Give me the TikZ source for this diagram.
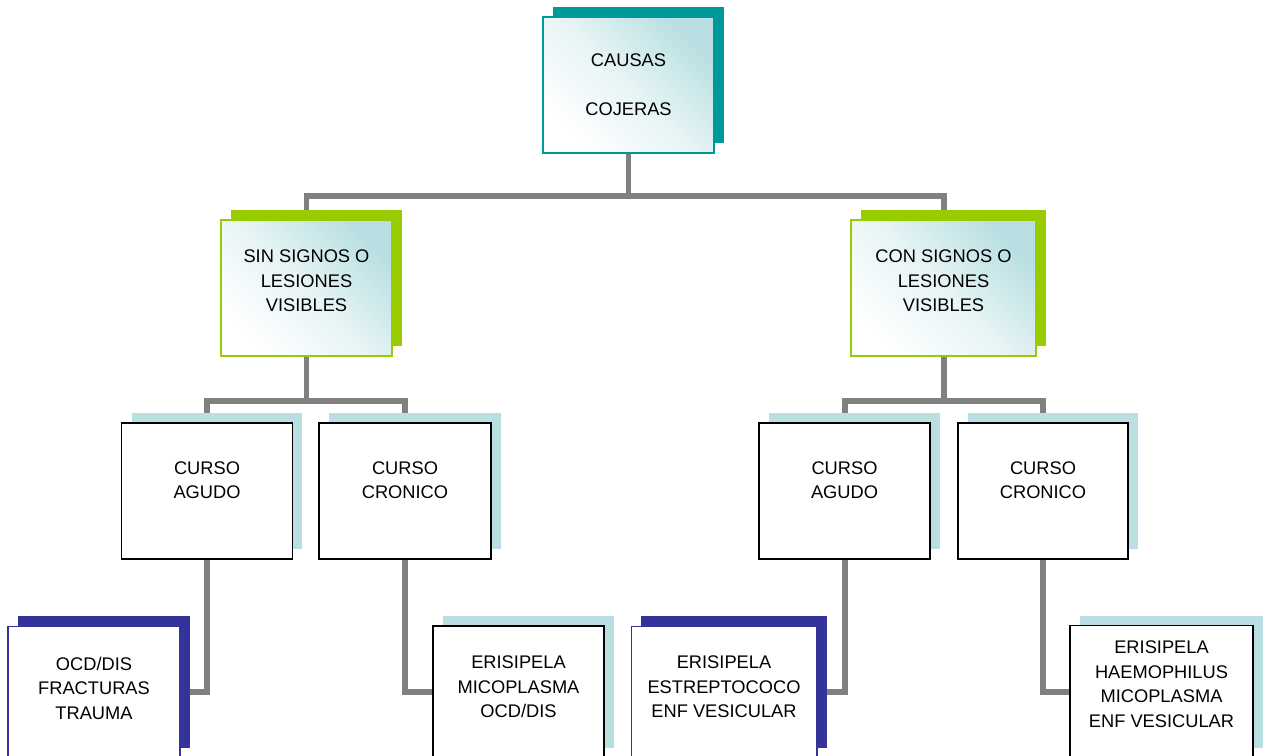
\documentclass[tikz,border=0pt]{standalone}
\usepackage{fontspec}
\setmainfont{Liberation Sans}
\usetikzlibrary{shadows, backgrounds}
\definecolor{tealdk}{HTML}{009999}
\definecolor{limegr}{HTML}{99CC00}
\definecolor{paleblue}{HTML}{B9DFE2}
\definecolor{navy}{HTML}{333399}
\definecolor{linkgray}{HTML}{808080}

\begin{document}
\begin{tikzpicture}[
  x=0.02cm, y=-0.02cm,
  every node/.style={font=\fontsize{10.4}{13.9}\selectfont, align=center},
  box/.style={rectangle, inner sep=0pt, minimum height=2.72cm,
    general shadow={fill=#1, shadow xshift=0.2cm, shadow yshift=0.2cm}},
  shadebox/.style={box=#1, draw=#1, line width=0.8pt, top color=paleblue,
    bottom color=white, middle color=paleblue!35!white, shading angle=-45},
  plainbox/.style={box=paleblue, draw=black, line width=1.1pt, fill=white},
  navybox/.style={box=navy, draw=navy, line width=0.6pt, fill=white, minimum height=2.64cm},
  leafbox/.style={plainbox, minimum height=2.64cm},
  lift/.style={execute at end node={\rule[-#1]{0pt}{#1}}},
  link/.style={draw=linkgray, line width=3.4pt}
]
  \useasboundingbox (0,0) rectangle (1263,755);
  \clip (0,0) rectangle (1263,755);

  % top level
  \node[shadebox=tealdk, minimum width=3.42cm] (causas) at (628.5,85) {CAUSAS\\[13.9pt]COJERAS};

  % signs
  \node[shadebox=limegr, minimum width=3.42cm, lift=0.28cm] (sin) at (306.5,288) {SIN SIGNOS O\\LESIONES\\VISIBLES};
  \node[shadebox=limegr, minimum width=3.7cm, lift=0.28cm]  (con) at (943.5,288) {CON SIGNOS O\\LESIONES\\VISIBLES};

  % course
  \node[plainbox, minimum width=3.42cm, lift=0.44cm] (aguL) at (207,491)  {CURSO\\AGUDO};
  \node[plainbox, minimum width=3.44cm, lift=0.44cm] (croL) at (405,491)  {CURSO\\CRONICO};
  \node[plainbox, minimum width=3.42cm, lift=0.44cm] (aguR) at (844.5,491) {CURSO\\AGUDO};
  \node[plainbox, minimum width=3.40cm, lift=0.44cm] (croR) at (1043,491) {CURSO\\CRONICO};

  % causes
  \node[navybox, minimum width=3.44cm, lift=0.16cm] (ocd)  at (94,692)    {OCD/DIS\\FRACTURAS\\TRAUMA};
  \node[leafbox, minimum width=3.42cm, lift=0.2cm]  (eriA) at (518.5,692) {ERISIPELA\\MICOPLASMA\\OCD/DIS};
  \node[navybox, minimum width=3.72cm, lift=0.2cm]  (eriB) at (724,692)   {ERISIPELA\\ESTREPTOCOCO\\ENF VESICULAR};
  \node[leafbox, minimum width=3.66cm, lift=0.3cm]  (eriC) at (1161.5,691.5) {ERISIPELA\\HAEMOPHILUS\\MICOPLASMA\\ENF VESICULAR};

  \begin{scope}[on background layer]
    \draw[link] (causas.south) -- ++(0,42) coordinate (topfork) -| (sin.north);
    \draw[link] (topfork) -| (con.north);

    \draw[link] (sin.south) -- ++(0,44) coordinate (sinfork) -| (aguL.north);
    \draw[link] (sinfork) -| (croL.north);
    \draw[link] (con.south) -- ++(0,44) coordinate (confork) -| (aguR.north);
    \draw[link] (confork) -| (croR.north);

    \draw[link] (aguL.south) |- (ocd.east);
    \draw[link] (croL.south) |- (eriA.west);
    \draw[link] (aguR.south) |- (eriB.east);
    \draw[link] (croR.south) |- (eriC.west);
  \end{scope}
\end{tikzpicture}
\end{document}
